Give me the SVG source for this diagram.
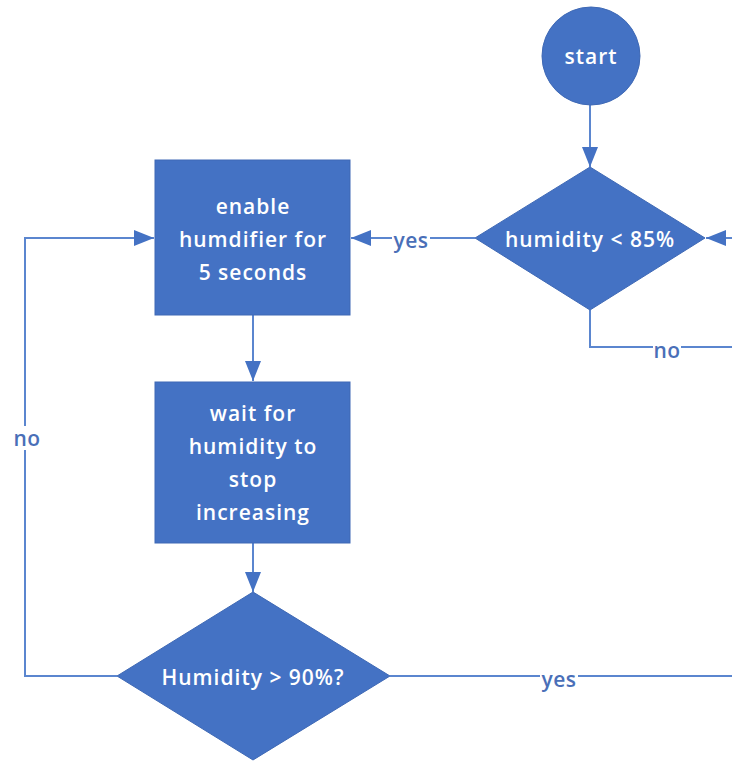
<svg xmlns="http://www.w3.org/2000/svg" width="732" height="761" viewBox="0 0 732 761">
<defs>
<style>
.node{fill:#4472C4;stroke:#3F69B5;stroke-width:1}
.t{font-family:"Open Sans","Liberation Sans",sans-serif;font-size:21px;font-weight:600;letter-spacing:1px;fill:#FFFFFF;text-anchor:middle;dominant-baseline:central}
.c{fill:none;stroke:#5B86CF;stroke-width:2}
.lb{font-family:"Open Sans","Liberation Sans",sans-serif;font-size:21px;font-weight:600;letter-spacing:0.5px;fill:#4A6FB8;text-anchor:middle;dominant-baseline:central}
.bg{fill:#FFFFFF}
</style>
<marker id="ah2" viewBox="0 0 20 16" refX="20" refY="8" markerWidth="20" markerHeight="16" markerUnits="userSpaceOnUse" orient="auto">
<path d="M0,0 L20,8 L0,16 Z" fill="#4472C4"/>
</marker>
</defs>
<rect width="732" height="761" fill="#FFFFFF"/>
<g id="connectors">
<path class="c" d="M590,105 L590,167" marker-end="url(#ah2)"/>
<path class="c" d="M732,238 L706,238" marker-end="url(#ah2)"/>
<path class="c" d="M590,310 L590,347 L732,347"/>
<path class="c" d="M475,238 L351,238" marker-end="url(#ah2)"/>
<path class="c" d="M253,315 L253,381" marker-end="url(#ah2)"/>
<path class="c" d="M253,543 L253,592" marker-end="url(#ah2)"/>
<path class="c" d="M117,676 L25,676 L25,238 L154,238" marker-end="url(#ah2)"/>
<path class="c" d="M390,676 L732,676"/>
<rect class="bg" x="392" y="228" width="38" height="22"/>
<text class="lb" x="411" y="240">yes</text>
<rect class="bg" x="653" y="338" width="28" height="22"/>
<text class="lb" x="667" y="350">no</text>
<rect class="bg" x="12" y="426" width="30" height="24"/>
<text class="lb" x="27" y="438">no</text>
<rect class="bg" x="540" y="666" width="38" height="22"/>
<text class="lb" x="559" y="679">yes</text>
</g>
<g id="start">
<circle class="node" cx="591" cy="56" r="49"/>
<text class="t" x="591" y="56">start</text>
</g>
<g id="check85">
<polygon class="node" points="590,167 705,238 590,310 475,238"/>
<text class="t" x="590" y="239">humidity &lt; 85%</text>
</g>
<g id="enable">
<rect class="node" x="155" y="160" width="195" height="155"/>
<text class="t" x="253" y="206">enable</text>
<text class="t" x="253" y="239">humdifier for</text>
<text class="t" x="253" y="272">5 seconds</text>
</g>
<g id="wait">
<rect class="node" x="155" y="382" width="195" height="161"/>
<text class="t" x="253" y="413">wait for</text>
<text class="t" x="253" y="446">humidity to</text>
<text class="t" x="253" y="479">stop</text>
<text class="t" x="253" y="512">increasing</text>
</g>
<g id="check90">
<polygon class="node" points="253,592 390,676 253,760 117,676"/>
<text class="t" x="253" y="677">Humidity &gt; 90%?</text>
</g>
</svg>
